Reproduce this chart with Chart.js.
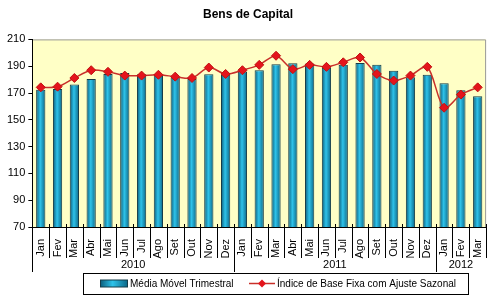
<!DOCTYPE html>
<html>
<head>
<meta charset="utf-8">
<script src="https://cdn.jsdelivr.net/npm/chart.js@4"></script>
<style>
  body { margin: 0; background: #fff; }
  #wrap { width: 495px; height: 298px; }
</style>
</head>
<body>
<div id="wrap"><canvas id="grafico"></canvas></div>
<script>
// meses e anos
const meses = ["Jan","Fev","Mar","Abr","Mai","Jun","Jul","Ago","Set","Out","Nov","Dez",
               "Jan","Fev","Mar","Abr","Mai","Jun","Jul","Ago","Set","Out","Nov","Dez",
               "Jan","Fev","Mar"];
const anos = ["2010", "2011", "2012"];
const mesesPorAno = [12, 12, 3];

// series
const mediaMovel = [172.5,173,176.3,180.5,184.2,184.9,184,183.6,181.7,180.5,183.9,184,
                    186,187,191.5,192.2,192,189,191,192.4,191,186.6,181.7,183.6,
                    177.3,172,167.6];
const indiceBase = [174.2,174.7,181.2,187,185.8,183,183,183.6,182.2,181.2,189,184.2,
                    187,191,197.8,187.8,191,189.5,192.9,196.5,184.2,179.3,183,189.5,
                    159,168.8,174.2];

const yTicks = [70, 90, 110, 130, 150, 170, 190, 210];

const nomeBarras = "Média Móvel Trimestral";
const nomeLinha = "Índice de Base Fixa com Ajuste Sazonal";

const fonte = "'Liberation Sans', Arial, sans-serif";
Chart.defaults.font.family = fonte;
Chart.defaults.color = "#000";

const barPct = 0.55;

function gradiente(ctx, x0, x1) {
  const g = ctx.createLinearGradient(x0, 0, x1, 0);
  g.addColorStop(0, "#0a5a78");
  g.addColorStop(0.45, "#2ec3ea");
  g.addColorStop(1, "#0b6585");
  return g;
}

// gradiente horizontal para cada barra
function corBarra(ctx) {
  const chart = ctx.chart;
  const x = chart.scales.x;
  if (!chart.chartArea || !x || ctx.dataIndex === undefined) return "#1a9fc6";
  const cx = x.getPixelForValue(ctx.dataIndex);
  const w = (chart.chartArea.width / meses.length) * barPct;
  return gradiente(chart.ctx, cx - w / 2, cx + w / 2);
}

// fundo amarelo e moldura da area do grafico
const fundo = {
  id: "fundo",
  beforeDraw(chart) {
    const { ctx, chartArea: a } = chart;
    ctx.save();
    ctx.fillStyle = "#ffffc6";
    ctx.fillRect(a.left, a.top, a.width, a.height);
    ctx.strokeStyle = "#9a9a9a";
    ctx.lineWidth = 1;
    ctx.beginPath();
    ctx.moveTo(a.left, a.top + 0.5);
    ctx.lineTo(a.right - 0.5, a.top + 0.5);
    ctx.lineTo(a.right - 0.5, a.bottom);
    ctx.stroke();
    ctx.restore();
  }
};

// separadores dos meses, anos e legenda
const eixoAnos = {
  id: "eixoAnos",
  afterDraw(chart) {
    const { ctx, chartArea: a } = chart;
    const x = chart.scales.x;
    const passo = a.width / meses.length;
    ctx.save();
    ctx.strokeStyle = "#000";
    ctx.lineWidth = 1;
    // separadores de meses
    for (let i = 0; i <= meses.length; i++) {
      const px = Math.round(x.getPixelForValue(i) - passo / 2) + 0.5;
      ctx.beginPath();
      ctx.moveTo(px, a.bottom - 3);
      ctx.lineTo(px, a.bottom + 31);
      ctx.stroke();
    }
    // anos
    let ini = 0;
    ctx.font = "11px " + fonte;
    ctx.fillStyle = "#000";
    ctx.textAlign = "center";
    ctx.textBaseline = "middle";
    anos.forEach((ano, k) => {
      const fim = ini + mesesPorAno[k];
      const x0 = x.getPixelForValue(ini) - passo / 2;
      const x1 = x.getPixelForValue(fim - 1) + passo / 2;
      ctx.beginPath();
      ctx.moveTo(Math.round(x0) + 0.5, a.bottom);
      ctx.lineTo(Math.round(x0) + 0.5, a.bottom + 45);
      ctx.stroke();
      ctx.fillText(ano, (x0 + x1) / 2, a.bottom + 38);
      ini = fim;
    });

    // legenda
    const lt = 273, lh = 21, cy = lt + lh / 2;
    ctx.strokeRect(83.5, lt + 0.5, 385, lh);
    ctx.font = "10px " + fonte;
    ctx.textAlign = "left";
    ctx.fillStyle = gradiente(ctx, 100, 128);
    ctx.fillRect(100, cy - 3.5, 28, 7);
    ctx.strokeStyle = "#153c48";
    ctx.strokeRect(100.5, cy - 3.5, 27, 7);
    ctx.fillStyle = "#000";
    ctx.fillText(nomeBarras, 130, cy + 0.5);

    ctx.strokeStyle = "#c8302a";
    ctx.lineWidth = 1.5;
    ctx.beginPath();
    ctx.moveTo(249, cy);
    ctx.lineTo(275, cy);
    ctx.stroke();
    ctx.fillStyle = "#e4141c";
    ctx.beginPath();
    ctx.moveTo(262, cy - 4);
    ctx.lineTo(266, cy);
    ctx.lineTo(262, cy + 4);
    ctx.lineTo(258, cy);
    ctx.closePath();
    ctx.fill();
    ctx.fillStyle = "#000";
    ctx.fillText(nomeLinha, 277, cy + 0.5);
    ctx.restore();
  }
};

new Chart(document.getElementById("grafico"), {
  type: "bar",
  data: {
    labels: meses,
    datasets: [
      {
        label: nomeBarras,
        data: mediaMovel,
        backgroundColor: corBarra,
        borderColor: "#153c48",
        borderWidth: 1,
        barPercentage: barPct,
        categoryPercentage: 1,
        order: 1
      },
      {
        type: "line",
        label: nomeLinha,
        data: indiceBase,
        borderColor: "#c8302a",
        borderWidth: 1.5,
        tension: 0.3,
        pointStyle: "rectRot",
        pointRadius: 4.5,
        pointBackgroundColor: "#e4141c",
        pointBorderColor: "#c01010",
        pointBorderWidth: 1,
        order: 0
      }
    ]
  },
  options: {
    responsive: true,
    maintainAspectRatio: false,
    animation: false,
    layout: { padding: { left: 4, right: 3, bottom: 27 } },
    plugins: {
      title: {
        display: true,
        text: "Bens de Capital",
        font: { size: 12, weight: "bold" },
        color: "#000",
        padding: { top: 7, bottom: 18 }
      },
      legend: { display: false },
      tooltip: { enabled: false }
    },
    scales: {
      x: {
        grid: { display: false },
        border: { color: "#000", width: 1 },
        ticks: {
          minRotation: 90,
          maxRotation: 90,
          padding: 4,
          font: { size: 11 },
          autoSkip: false
        },
        afterFit(scale) { scale.height = 44; }
      },
      y: {
        min: 70,
        max: 210,
        afterBuildTicks(scale) { scale.ticks = yTicks.map(v => ({ value: v })); },
        grid: { drawOnChartArea: false, tickLength: 4, color: "#000" },
        border: { color: "#000", width: 1 },
        ticks: { font: { size: 11 }, padding: 3 }
      }
    }
  },
  plugins: [fundo, eixoAnos]
});
</script>
</body>
</html>
